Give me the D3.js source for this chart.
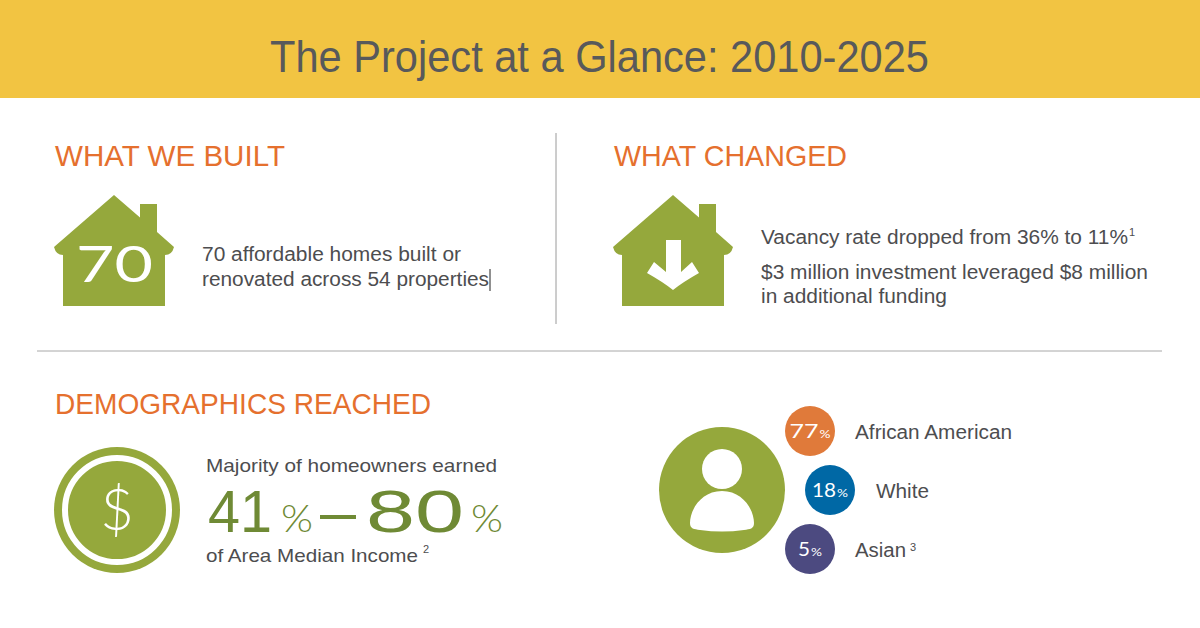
<!DOCTYPE html>
<html>
<head>
<meta charset="utf-8">
<script src="https://cdn.jsdelivr.net/npm/d3@7"></script>
<style>
html, body { margin: 0; padding: 0; background: #fff; }
svg { display: block; }
</style>
</head>
<body>
<script>
var titleText = "The Project at a Glance: 2010-2025";
var sectionHeads = ["WHAT WE BUILT", "WHAT CHANGED", "DEMOGRAPHICS REACHED"];
var builtLines = ["70 affordable homes built or", "renovated across 54 properties"];
var homesBuilt = 70;
var changedLines = ["Vacancy rate dropped from 36% to 11%", "$3 million investment leveraged $8 million", "in additional funding"];
var incomeLow = 41;
var incomeHigh = 80;
var groups = ["African American", "White", "Asian"];
var groupShares = [77, 18, 5];
var groupColors = ["#e07a3a", "#0068a5", "#4c4a80"];

var width = 1200, height = 628;
var olive = "#95a83c", orange = "#e5702e", grey = "#4d4d4f", darkOlive = "#6f8a35";
var bodyFont = "'Liberation Sans', Arial, sans-serif";
var narrowFont = "'Liberation Sans Narrow', 'Liberation Sans', sans-serif";
var wideFont = "Lato, 'Liberation Sans', sans-serif";

var svg = d3.select("body").append("svg")
    .attr("width", width)
    .attr("height", height);

svg.append("rect").attr("width", width).attr("height", height).attr("fill", "#fff");
svg.append("rect").attr("width", width).attr("height", 98).attr("fill", "#f2c442");

// text helper, fit forces the drawn width to match the original lettering
function label(str, x, y, size, color, font, fit, weight) {
    var t = svg.append("text")
        .attr("x", x)
        .attr("y", y)
        .attr("font-size", size)
        .attr("font-family", font)
        .attr("fill", color)
        .text(str);
    if (fit) t.attr("textLength", fit).attr("lengthAdjust", "spacingAndGlyphs");
    if (weight) t.attr("font-weight", weight);
    return t;
}

label(titleText, 270, 72, 44, "#58595b", narrowFont, 659);

label(sectionHeads[0], 55, 166, 30, orange, bodyFont, 230);
label(sectionHeads[1], 614, 166, 30, orange, bodyFont, 233);
label(sectionHeads[2], 55, 414, 30, orange, bodyFont, 376);

// dividers
svg.append("line").attr("x1", 556).attr("x2", 556).attr("y1", 133).attr("y2", 324)
    .attr("stroke", "#9a9a9a").attr("stroke-width", 1);
svg.append("line").attr("x1", 37).attr("x2", 1162).attr("y1", 351).attr("y2", 351)
    .attr("stroke", "#a8a8a8").attr("stroke-width", 1);

function drawHouse(cx) {
    var p = d3.path();
    p.moveTo(cx, 195);
    p.lineTo(cx + 26, 217.5);
    p.lineTo(cx + 26, 204);
    p.lineTo(cx + 43, 204);
    p.lineTo(cx + 43, 232);
    p.lineTo(cx + 60, 247);
    p.quadraticCurveTo(cx + 58, 255, cx + 51, 255);
    p.lineTo(cx + 51, 306);
    p.lineTo(cx - 51, 306);
    p.lineTo(cx - 51, 255);
    p.quadraticCurveTo(cx - 58, 255, cx - 60, 247);
    p.closePath();
    svg.append("path").attr("d", p.toString()).attr("fill", olive);
}

drawHouse(114);
label(String(homesBuilt), 76, 282, 50, "#fff", wideFont, 77);

label(builtLines[0], 202, 261, 20, grey, bodyFont, 259);
label(builtLines[1], 202, 286, 20, grey, bodyFont, 287);
svg.append("line").attr("x1", 490).attr("x2", 490).attr("y1", 269).attr("y2", 291)
    .attr("stroke", "#222").attr("stroke-width", 1);

drawHouse(673);
svg.append("path")
    .attr("d", "M666,240 L681,240 L681,272 L692,262 L699,273 Q683,282 673,290 Q663,282 647,273 L654,262 L666,272 Z")
    .attr("fill", "#fff");

label(changedLines[0], 761, 244, 20, grey, bodyFont, 367);
label("1", 1129, 236, 11, grey, bodyFont);
label(changedLines[1], 761, 279, 20, grey, bodyFont, 387);
label(changedLines[2], 761, 303, 20, grey, bodyFont, 186);

// income block
svg.append("circle").attr("cx", 117).attr("cy", 510).attr("r", 63).attr("fill", olive);
svg.append("circle").attr("cx", 117).attr("cy", 510).attr("r", 52).attr("fill", "none")
    .attr("stroke", "#fff").attr("stroke-width", 6);
label("$", 117, 530, 58, "#fff", wideFont, null, 300).attr("text-anchor", "middle");

label("Majority of homeowners earned", 206, 472, 19, grey, bodyFont, 291);
label(String(incomeLow), 208, 532, 60, darkOlive, bodyFont, 64);
label("%", 281, 532, 38, darkOlive, wideFont, 32, 300);
label("\u2013", 320, 532, 60, darkOlive, bodyFont, 36);
label(String(incomeHigh), 366, 532, 60, darkOlive, bodyFont, 98);
label("%", 471, 532, 38, darkOlive, wideFont, 32, 300);
label("of Area Median Income", 206, 562, 19, grey, bodyFont, 212);
label("2", 423, 553, 11, grey, bodyFont);

// person icon
svg.append("circle").attr("cx", 722).attr("cy", 490).attr("r", 63).attr("fill", olive);
svg.append("circle").attr("cx", 722).attr("cy", 469).attr("r", 20).attr("fill", "#fff");
svg.append("path")
    .attr("d", "M722,491 C701,491 690,510 690,523 C690,529 694,529 700,530 Q722,533 744,530 C750,529 754,529 754,523 C754,510 743,491 722,491 Z")
    .attr("fill", "#fff");

// group bubbles
var yGroup = d3.scalePoint().domain(groups).range([431, 549]);
var xBubble = d3.scaleOrdinal().domain(groups).range([810, 830, 810]);
var xLabel = d3.scaleOrdinal().domain(groups).range([855, 876, 855]);
var labelFit = d3.scaleOrdinal().domain(groups).range([157, 53, 51]);
var shareFit = d3.scaleOrdinal().domain(groups).range([29, 24, 12]);

groups.forEach(function (g, i) {
    var cx = xBubble(g), cy = yGroup(g);
    svg.append("circle").attr("cx", cx).attr("cy", cy).attr("r", 25).attr("fill", groupColors[i]);
    var left = cx - (shareFit(g) + 12) / 2;
    label(String(groupShares[i]), left, cy + 7, 20, "#fff", wideFont, shareFit(g), 400);
    label("%", left + shareFit(g) + 1, cy + 7, 11, "#fff", wideFont, 11, 400);
    label(g, xLabel(g), cy + 8, 20, grey, bodyFont, labelFit(g));
});
label("3", 910, 551, 11, grey, bodyFont);
</script>
</body>
</html>
